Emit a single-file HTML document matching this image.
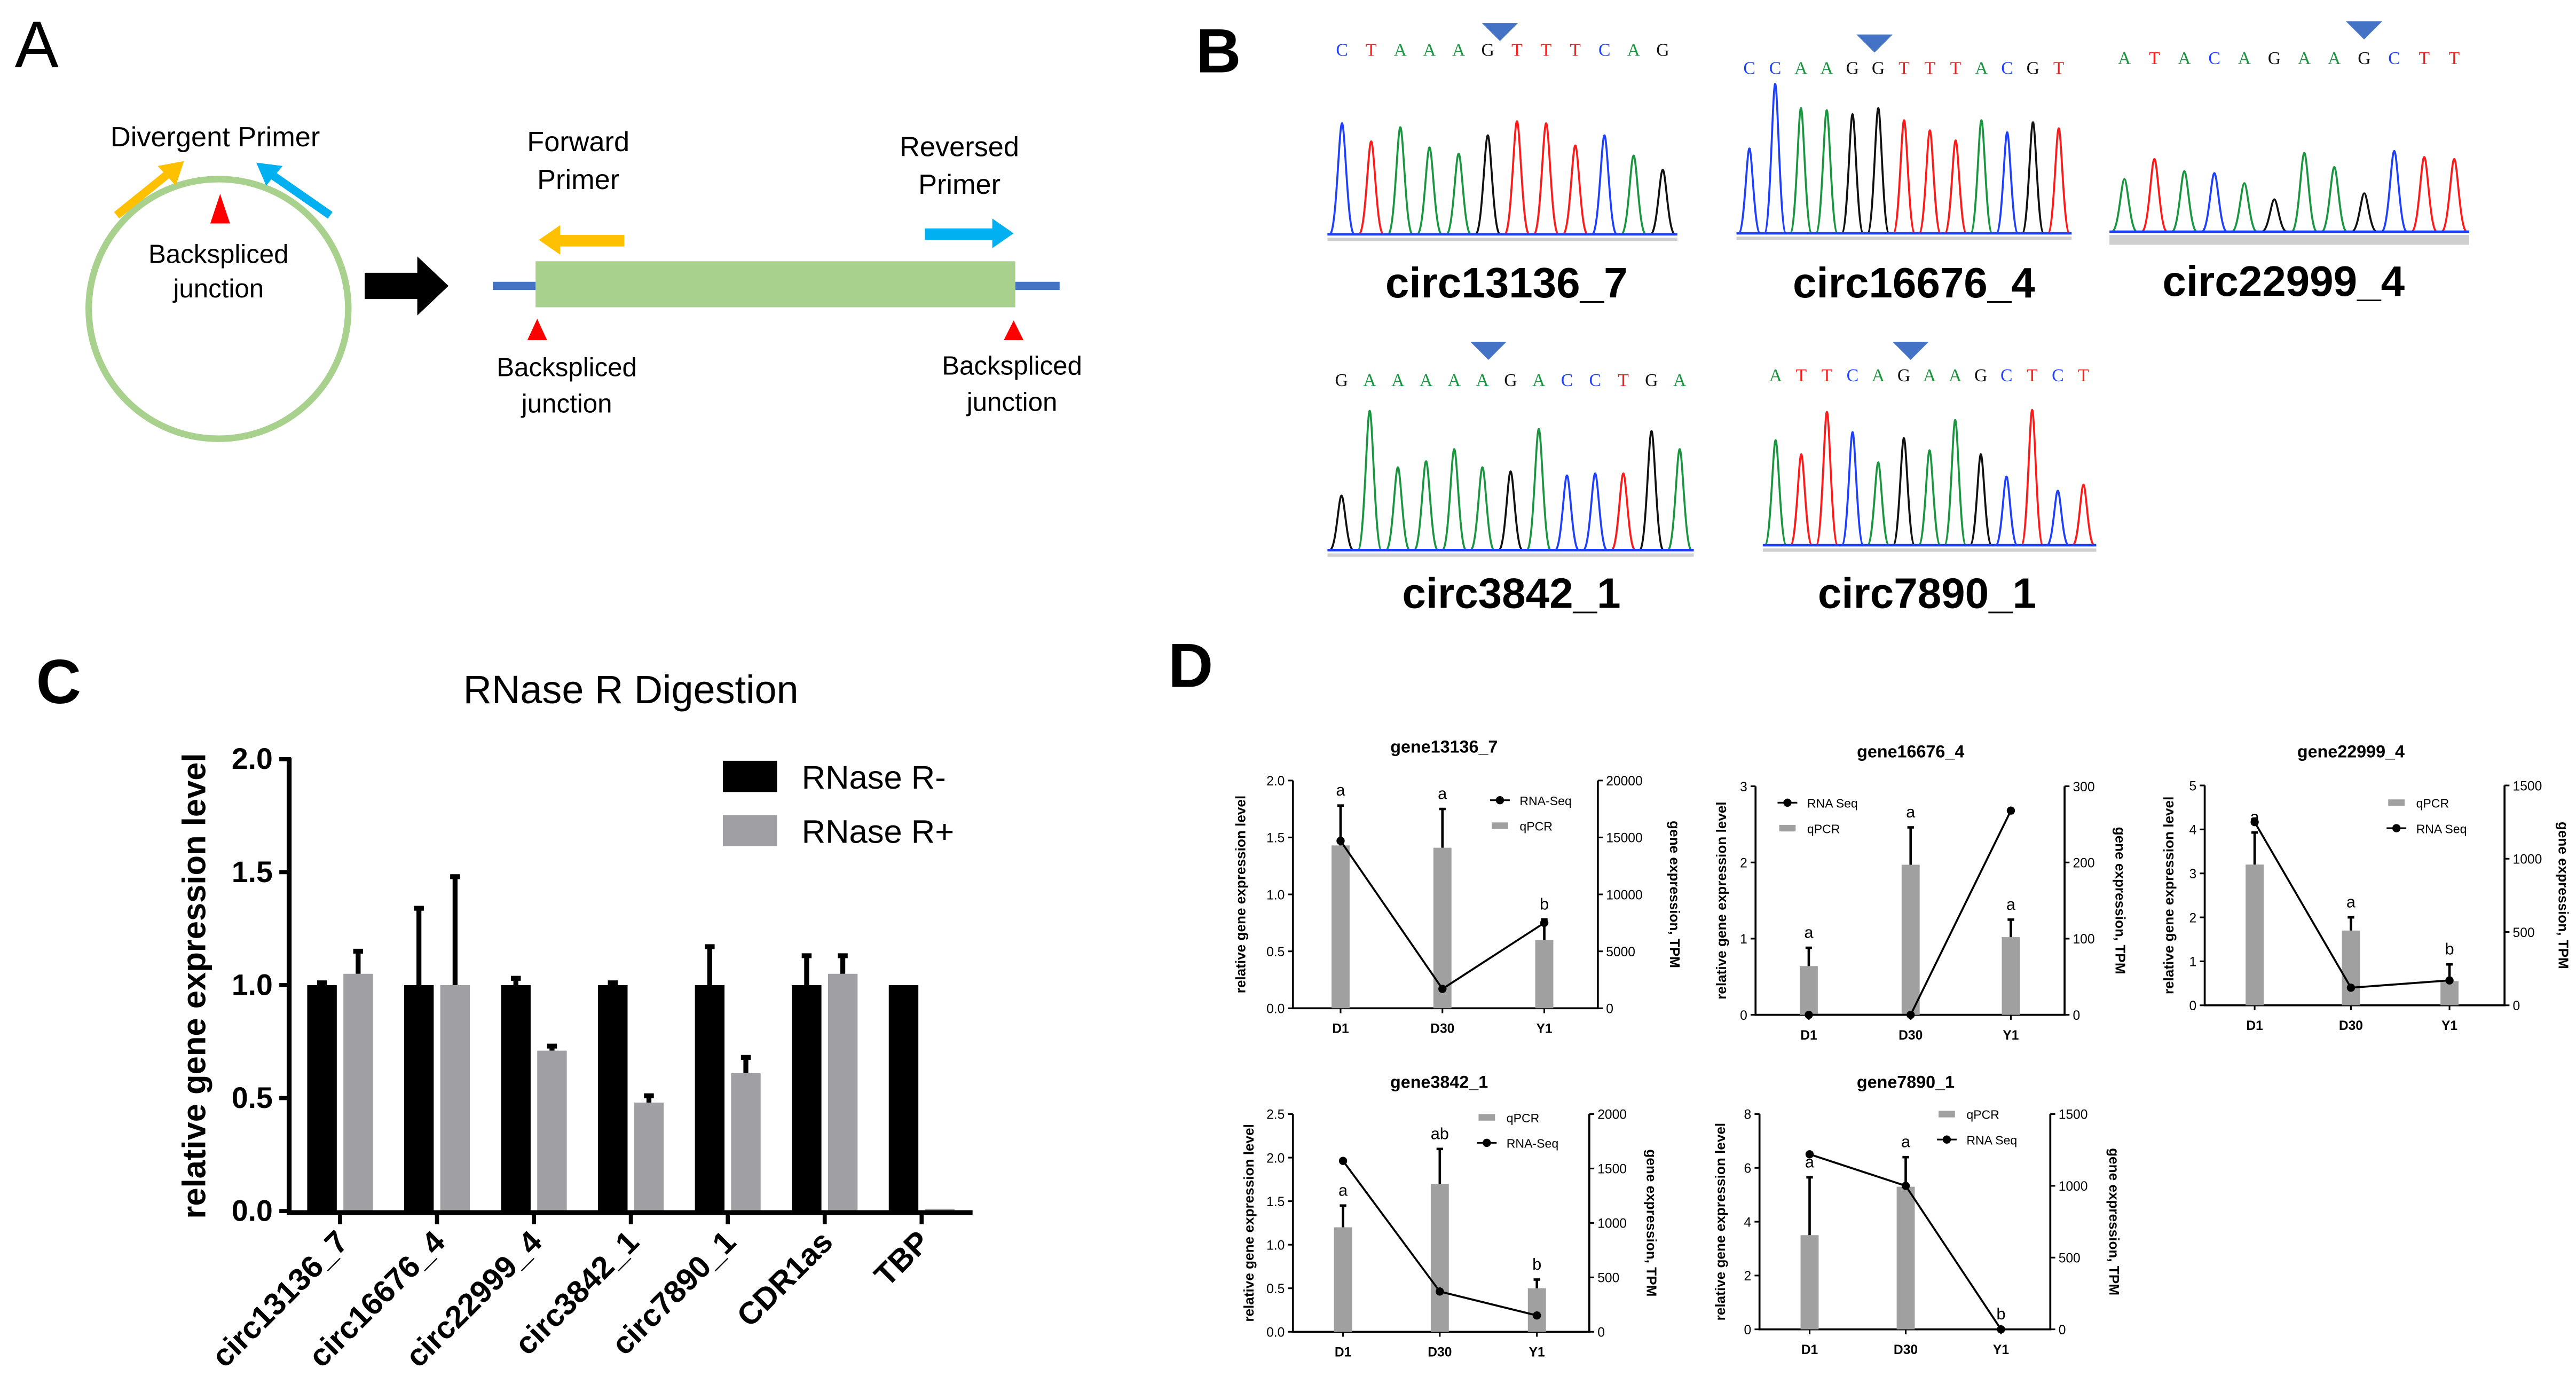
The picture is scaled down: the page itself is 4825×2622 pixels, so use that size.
<!DOCTYPE html>
<html><head><meta charset="utf-8"><style>
html,body{margin:0;padding:0;background:#fff;}
svg{display:block;font-family:"Liberation Sans",Arial,sans-serif;}
</style></head><body>
<svg id="fig" xmlns="http://www.w3.org/2000/svg" width="4825" height="2622" viewBox="0 0 1568 852" preserveAspectRatio="none">
<rect x="0" y="0" width="1568" height="852" fill="#fff"/>
<!-- Panel A -->
<g>
<text x="9" y="41" font-size="40">A</text>
<text x="131" y="89" font-size="17" text-anchor="middle">Divergent Primer</text>
<circle cx="133" cy="188" r="79" fill="none" stroke="#a9d18e" stroke-width="4"/>
<polygon points="128,136 134,118 140,136" fill="#ff0000"/>
<g><line x1="71" y1="131" x2="102" y2="106" stroke="#ffc000" stroke-width="5"/><polygon points="112,98 96,101 107,113" fill="#ffc000"/></g>
<g><line x1="201" y1="131" x2="165" y2="106" stroke="#00b0f0" stroke-width="5"/><polygon points="156,99 172,101 162,113" fill="#00b0f0"/></g>
<text x="133" y="160" font-size="16" text-anchor="middle">Backspliced</text>
<text x="133" y="181" font-size="16" text-anchor="middle">junction</text>
<polygon points="222,166 254,166 254,156 273,174 254,192 254,182 222,182" fill="#000"/>
<line x1="300" y1="174" x2="326" y2="174" stroke="#4472c4" stroke-width="5"/>
<line x1="618" y1="174" x2="645" y2="174" stroke="#4472c4" stroke-width="5"/>
<rect x="326" y="159" width="292" height="28" fill="#a9d18e"/>
<text x="352" y="92" font-size="17" text-anchor="middle">Forward</text>
<text x="352" y="115" font-size="17" text-anchor="middle">Primer</text>
<text x="584" y="95" font-size="17" text-anchor="middle">Reversed</text>
<text x="584" y="118" font-size="17" text-anchor="middle">Primer</text>
<g><rect x="338" y="143" width="42" height="7" fill="#ffc000"/><polygon points="328,146 341,137 341,155" fill="#ffc000"/></g>
<g><rect x="563" y="139" width="44" height="7" fill="#00b0f0"/><polygon points="617,142 604,133 604,151" fill="#00b0f0"/></g>
<polygon points="321,207 327,194 333,207" fill="#ff0000"/>
<polygon points="611,207 617,195 623,207" fill="#ff0000"/>
<text x="345" y="229" font-size="16" text-anchor="middle">Backspliced</text>
<text x="345" y="251" font-size="16" text-anchor="middle">junction</text>
<text x="616" y="228" font-size="16" text-anchor="middle">Backspliced</text>
<text x="616" y="250" font-size="16" text-anchor="middle">junction</text>
</g>
<text x="728" y="44" font-size="38" font-weight="bold">B</text>
<text x="22" y="428" font-size="38" font-weight="bold">C</text>
<text x="711" y="418" font-size="38" font-weight="bold">D</text>
<g id="gB"></g>
<g id="gC"></g>
<g id="gD"></g>
</svg>
<script>
// ---------- Panel C data ----------
const cCategories = ['circ13136_7','circ16676_4','circ22999_4','circ3842_1','circ7890_1','CDR1as','TBP'];
const cMinus = [1,1,1,1,1,1,1];
const cMinusErr = [0.01,0.34,0.03,0.01,0.17,0.13,0];
const cPlus = [1.05,1.0,0.71,0.48,0.61,1.05,0.01];
const cPlusErr = [0.1,0.48,0.02,0.03,0.07,0.08,0];
const cTicks = [0,0.5,1,1.5,2];
const cTickLabels = ['0.0','0.5','1.0','1.5','2.0'];

// ---------- Panel D data ----------
const dTitles = ['gene13136_7','gene16676_4','gene22999_4','gene3842_1','gene7890_1'];
const dCats = ['D1','D30','Y1'];
const d1Bars=[1.43,1.41,0.6], d1Err=[0.35,0.34,0.18], d1Line=[14700,1700,7500], d1Letters=['a','a','b'];
const d2Bars=[0.64,1.97,1.02], d2Err=[0.24,0.49,0.23], d2Line=[0,0,268], d2Letters=['a','a','a'];
const d3Bars=[3.2,1.7,0.55], d3Err=[0.73,0.3,0.38], d3Line=[1250,120,170], d3Letters=['a','a','b'];
const d4Bars=[1.2,1.7,0.5], d4Err=[0.25,0.4,0.1], d4Line=[1570,370,150], d4Letters=['a','ab','b'];
const d5Bars=[3.5,5.3,0], d5Err=[2.15,1.1,0], d5Line=[1220,1000,0], d5Letters=['a','a','b'];
const d1LeftTicks=[0,0.5,1,1.5,2], d1LeftLabels=['0.0','0.5','1.0','1.5','2.0'], d1RightTicks=[0,5000,10000,15000,20000];
const d2LeftTicks=[0,1,2,3], d2LeftLabels=['0','1','2','3'], d2RightTicks=[0,100,200,300];
const d3LeftTicks=[0,1,2,3,4,5], d3LeftLabels=['0','1','2','3','4','5'], d3RightTicks=[0,500,1000,1500];
const d4LeftTicks=[0,0.5,1,1.5,2,2.5], d4LeftLabels=['0.0','0.5','1.0','1.5','2.0','2.5'], d4RightTicks=[0,500,1000,1500,2000];
const d5LeftTicks=[0,2,4,6,8], d5LeftLabels=['0','2','4','6','8'], d5RightTicks=[0,500,1000,1500];

// ---------- Panel B data ----------
const bNames=['circ13136_7','circ16676_4','circ22999_4','circ3842_1','circ7890_1'];
const bSeqs=['CTAAAGTTTCAG','CCAAGGTTTACGT','ATACAGAAGCTT','GAAAAAGACCTGA','ATTCAGAAGCTCT'];
const bHeights1=[275,230,265,215,200,245,280,275,220,245,195,160];
const bHeights2=[210,370,310,305,295,310,280,255,230,280,250,275,260];
const bHeights3=[130,180,150,145,120,80,195,160,95,200,185,180];
const bHeights4=[135,345,205,220,250,205,195,300,185,190,190,295,250];
const bHeights5=[260,225,330,280,205,265,235,310,225,170,335,135,150];

const NS='http://www.w3.org/2000/svg';
function mk(tag, attrs, parent){const e=document.createElementNS(NS,tag);for(const k in attrs)e.setAttribute(k,attrs[k]);parent.appendChild(e);return e;}
function tx(s, attrs, parent){const t=mk('text',attrs,parent);t.textContent=s;return t;}
const baseColor={A:'#1a9641',C:'#1f3fff',G:'#111',T:'#ff1a1a'};

// ---------- Panel B ----------
const gB=document.getElementById('gB');
const bLayout=[
 {x0:808,x1:1021,base:142.6,seqY:34,triX:913,triY:14,labX:917,labY:181,h:bHeights1},
 {x0:1057,x1:1261,base:142,seqY:45,triX:1141,triY:21,labX:1165,labY:181,h:bHeights2},
 {x0:1284,x1:1503,base:141,seqY:39,triX:1439,triY:13,labX:1390,labY:180,h:bHeights3},
 {x0:808,x1:1031,base:334.8,seqY:235,triX:906,triY:208,labX:920,labY:370,h:bHeights4},
 {x0:1073,x1:1276,base:331.8,seqY:232,triX:1163,triY:208,labX:1173,labY:370,h:bHeights5}
];
bLayout.forEach((L,i)=>{
  const g=mk('g',{},gB);
  
  
  const seq=bSeqs[i], n=seq.length, step=(L.x1-L.x0)/n;
  const tri=mk('polygon',{points:(L.triX-11)+','+L.triY+' '+(L.triX+11)+','+L.triY+' '+L.triX+','+(L.triY+11),fill:'#4472c4'},g);
  
  
  for(let k=0;k<n;k++){
    const cx=L.x0+step*(k+0.5), c=seq[k];
    const t=tx(c,{x:cx,y:L.seqY,'font-size':11,'font-family':'Liberation Serif, serif','text-anchor':'middle',fill:baseColor[c]},g);
    
    
    const hh=L.h[k]*0.2458, w=step*0.42;
    const p=mk('path',{d:'M'+(cx-w)+','+L.base+' C'+(cx-w*0.45)+','+L.base+' '+(cx-w*0.25)+','+(L.base-hh)+' '+cx+','+(L.base-hh)+' C'+(cx+w*0.25)+','+(L.base-hh)+' '+(cx+w*0.45)+','+L.base+' '+(cx+w)+','+L.base,fill:'none',stroke:baseColor[c],'stroke-width':1.2},g);
    
    
  }
  const bl=mk('line',{x1:L.x0,x2:L.x1,y1:L.base,y2:L.base,stroke:'#1f3fff','stroke-width':1.5},g);
  
  
  const sh=mk('rect',{x:L.x0,y:L.base+2,width:L.x1-L.x0,height:i==2?6:2,fill:'#cfcfcf'},g);
  
  
  const lab=tx(bNames[i],{x:L.labX,y:L.labY,'font-size':26,'font-weight':'bold','text-anchor':'middle'},g);
  
  
});

// ---------- Panel C ----------
const gC=document.getElementById('gC');
const yC=v=>737-v*137.5, xC=i=>207+i*59;
let e;
e=tx('RNase R Digestion',{x:384,y:428,'font-size':24,'text-anchor':'middle'},gC);


e=tx('relative gene expression level',{x:0,y:0,'font-size':20,'font-weight':'bold','text-anchor':'middle',transform:'translate(125,600) rotate(-90)'},gC);


cTicks.forEach((v,i)=>{
  e=mk('line',{x1:170,x2:177,y1:yC(v),y2:yC(v),stroke:'#000','stroke-width':2.5},gC);
  
  
  e=tx(cTickLabels[i],{x:166,y:yC(v)+6,'font-size':18,'font-weight':'bold','text-anchor':'end'},gC);
  
  
});
function errBar(g,x,y0,y1,w,sw,name){
  const el=mk('path',{d:'M'+x+','+y0+' V'+y1+' M'+(x-w)+','+y1+' H'+(x+w),stroke:'#000','stroke-width':sw,fill:'none'},g);
  
  
}
cCategories.forEach((c,i)=>{
  const cx=xC(i);
  e=mk('rect',{x:cx-20,y:yC(cMinus[i]),width:18,height:yC(0)-yC(cMinus[i]),fill:'#000'},gC);
  
  
  if(cMinusErr[i]>0) errBar(gC,cx-11,yC(cMinus[i]),yC(cMinus[i]+cMinusErr[i]),3,3,'error-bar');
  e=mk('rect',{x:cx+2,y:yC(cPlus[i]),width:18,height:yC(0)-yC(cPlus[i]),fill:'#a0a0a4'},gC);
  
  
  if(cPlusErr[i]>0) errBar(gC,cx+11,yC(cPlus[i]),yC(cPlus[i]+cPlusErr[i]),3,3,'error-bar');
  e=mk('line',{x1:cx,x2:cx,y1:737,y2:745,stroke:'#000','stroke-width':2.5},gC);
  
  
  e=tx(c,{x:0,y:0,'font-size':19,'font-weight':'bold','text-anchor':'end',transform:'translate('+(cx+6)+',757) rotate(-45)'},gC);
  
  
});
e=mk('path',{d:'M176,461 V738 H592',stroke:'#000','stroke-width':3,fill:'none'},gC);


e=mk('rect',{x:440,y:463,width:33,height:19,fill:'#000'},gC);


e=tx('RNase R-',{x:488,y:480,'font-size':20},gC);


e=mk('rect',{x:440,y:496,width:33,height:19,fill:'#a0a0a4'},gC);


e=tx('RNase R+',{x:488,y:513,'font-size':20},gC);



// ---------- Panel D ----------
const gD=document.getElementById('gD');
const dData=[
 {bars:d1Bars,err:d1Err,line:d1Line,letters:d1Letters,lt:d1LeftTicks,ll:d1LeftLabels,rt:d1RightTicks},
 {bars:d2Bars,err:d2Err,line:d2Line,letters:d2Letters,lt:d2LeftTicks,ll:d2LeftLabels,rt:d2RightTicks},
 {bars:d3Bars,err:d3Err,line:d3Line,letters:d3Letters,lt:d3LeftTicks,ll:d3LeftLabels,rt:d3RightTicks},
 {bars:d4Bars,err:d4Err,line:d4Line,letters:d4Letters,lt:d4LeftTicks,ll:d4LeftLabels,rt:d4RightTicks},
 {bars:d5Bars,err:d5Err,line:d5Line,letters:d5Letters,lt:d5LeftTicks,ll:d5LeftLabels,rt:d5RightTicks}
];
const dLayout=[
 {lx:787,rx:972.6,y0:613.6,yt:475,cx:[816,878,940],tx:879,ty:458,leg:[913,487],legOrder:['RNA-Seq','qPCR'],llo:-29,rlo:44},
 {lx:1068.6,rx:1256.7,y0:617.6,yt:478.5,cx:[1101,1163,1224],tx:1163,ty:461,leg:[1088,488.5],legOrder:['RNA Seq','qPCR'],llo:-18,rlo:31},
 {lx:1342,rx:1524.5,y0:611.8,yt:478,cx:[1372.4,1431,1491],tx:1431,ty:461,leg:[1458.7,488.5],legOrder:['qPCR','RNA Seq'],llo:-19,rlo:33},
 {lx:787,rx:967.4,y0:810.5,yt:678,cx:[817.5,876.4,935.5],tx:876,ty:662,leg:[905,680],legOrder:['qPCR','RNA-Seq'],llo:-24,rlo:35},
 {lx:1071,rx:1248,y0:809,yt:678,cx:[1101.5,1160,1218],tx:1160,ty:662,leg:[1185,678],legOrder:['qPCR','RNA Seq'],llo:-21,rlo:36}
];
dData.forEach((D,p)=>{
  const L=dLayout[p];
  const g=mk('g',{},gD);
  
  
  const lmax=D.lt[D.lt.length-1], rmax=D.rt[D.rt.length-1];
  const yl=v=>L.y0-(v/lmax)*(L.y0-L.yt), yr=v=>L.y0-(v/rmax)*(L.y0-L.yt);
  e=tx(dTitles[p],{x:L.tx,y:L.ty,'font-size':10.5,'font-weight':'bold','text-anchor':'middle'},g);
  
  
  e=mk('path',{d:'M'+L.lx+','+L.yt+' V'+L.y0+' H'+L.rx+' V'+L.yt,stroke:'#000','stroke-width':1.2,fill:'none'},g);
  
  
  D.lt.forEach((v,i)=>{
    e=mk('line',{x1:L.lx-3,x2:L.lx,y1:yl(v),y2:yl(v),stroke:'#000','stroke-width':1},g);
    
    
    e=tx(D.ll[i],{x:L.lx-5,y:yl(v)+3,'font-size':8,'text-anchor':'end'},g);
    
    
  });
  D.rt.forEach(v=>{
    e=mk('line',{x1:L.rx,x2:L.rx+3,y1:yr(v),y2:yr(v),stroke:'#000','stroke-width':1},g);
    
    
    e=tx(String(v),{x:L.rx+5,y:yr(v)+3,'font-size':8},g);
    
    
  });
  const my=(L.y0+L.yt)/2;
  e=tx('relative gene expression level',{x:0,y:0,'font-size':8.5,'font-weight':'bold','text-anchor':'middle',transform:'translate('+(L.lx+L.llo)+','+my+') rotate(-90)'},g);
  
  
  e=tx('gene expression, TPM',{x:0,y:0,'font-size':8.5,'font-weight':'bold','text-anchor':'middle',transform:'translate('+(L.rx+L.rlo)+','+my+') rotate(90)'},g);
  
  
  dCats.forEach((c,i)=>{
    const cx=L.cx[i];
    if(D.bars[i]>0){
      e=mk('rect',{x:cx-5.5,y:yl(D.bars[i]),width:11,height:L.y0-yl(D.bars[i]),fill:'#a0a0a0'},g);
      
      
    }
    if(D.err[i]>0) errBar(g,cx,yl(D.bars[i]),yl(D.bars[i]+D.err[i]),2,1.5,'error-bar');
    e=tx(D.letters[i],{x:cx,y:yl(D.bars[i]+D.err[i])-6,'font-size':10,'text-anchor':'middle'},g);
    
    
    e=mk('line',{x1:cx,x2:cx,y1:L.y0,y2:L.y0+3,stroke:'#000','stroke-width':1},g);
    
    
    e=tx(c,{x:cx,y:L.y0+15,'font-size':8,'font-weight':'bold','text-anchor':'middle'},g);
    
    
  });
  let d='';
  D.line.forEach((v,i)=>{d+=(i?'L':'M')+L.cx[i]+','+yr(v)+' ';});
  e=mk('path',{d:d,stroke:'#000','stroke-width':1.2,fill:'none'},g);
  
  
  D.line.forEach((v,i)=>{
    e=mk('circle',{cx:L.cx[i],cy:yr(v),r:2.5,fill:'#000'},g);
    
    
  });
  L.legOrder.forEach((name,k)=>{
    const lx=L.leg[0], ly=L.leg[1]+k*15.5;
    if(name==='qPCR'){
      e=mk('rect',{x:lx-5,y:ly-2,width:10,height:4,fill:'#a0a0a0'},g);
      
      
    } else {
      e=mk('line',{x1:lx-6,x2:lx+6,y1:ly,y2:ly,stroke:'#000','stroke-width':1},g);
      
      
      e=mk('circle',{cx:lx,cy:ly,r:2.5,fill:'#000'},g);
      
      
    }
    e=tx(name,{x:lx+12,y:ly+3,'font-size':7.5},g);
    
    
  });
});
</script>
</body></html>
